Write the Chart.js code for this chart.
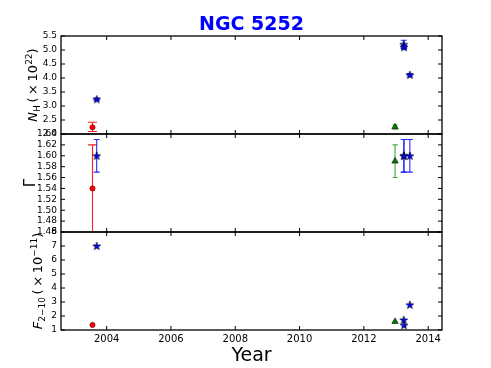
<!DOCTYPE html>
<html>
<head>
<meta charset="utf-8">
<script src="https://cdn.jsdelivr.net/npm/chart.js@4.4.1/dist/chart.umd.min.js"></script>
<style>
  html, body { margin: 0; padding: 0; background: #fff; }
  #wrap { width: 491px; height: 368px; }
</style>
</head>
<body>
<div id="wrap"><canvas id="ngcChart" width="491" height="368"></canvas></div>
<script>
// observation epochs (decimal year)
var circleYears = [2003.56];
var starYears = [2003.69, 2013.24, 2013.25, 2013.43];
var triangleYears = [2012.97];

// column density N_H (x10^22)
var circleNH = [2.24], circleNHLo = [0.15], circleNHHi = [0.18];
var starNH = [3.24, 5.2, 5.1, 4.11], starNHErr = [0.04, 0.15, 0.06, 0.05];
var triangleNH = [2.25], triangleNHErr = [0.07];

// photon index Gamma
var circleGamma = [1.54], circleGammaLo = [0.10], circleGammaHi = [0.08];
var starGamma = [1.60, 1.60, 1.60, 1.60], starGammaErr = [0.03, 0.03, 0.03, 0.03];
var triangleGamma = [1.59], triangleGammaErr = [0.03];

// 2-10 keV flux (x10^-11)
var circleFlux = [1.36];
var starFlux = [7.0, 1.72, 1.34, 2.8];
var triangleFlux = [1.6];

// tick labels
var yearTicks = [2004, 2006, 2008, 2010, 2012, 2014];
var nhTicks = [2.0, 2.5, 3.0, 3.5, 4.0, 4.5, 5.0, 5.5];
var gammaTicks = [1.46, 1.48, 1.50, 1.52, 1.54, 1.56, 1.58, 1.60, 1.62, 1.64];
var fluxTicks = [1, 2, 3, 4, 5, 6, 7, 8];

function pts(xs, ys) {
    return xs.map(function(x, i) { return {x: x, y: ys[i]}; });
}

function starImage() {
    var c = document.createElement('canvas');
    c.width = 10; c.height = 10;
    var g = c.getContext('2d');
    g.beginPath();
    for (var k = 0; k < 10; k++) {
        var r = k % 2 === 0 ? 4.2 : 1.7;
        var a = -Math.PI / 2 + k * Math.PI / 5;
        g.lineTo(5 + r * Math.cos(a), 5.3 + r * Math.sin(a));
    }
    g.closePath();
    g.fillStyle = '#0000ff';
    g.fill();
    g.lineWidth = 0.6;
    g.strokeStyle = '#000';
    g.stroke();
    return c;
}
var star = starImage();

function circleSet(data, axis, lo, hi) {
    return {data: data, yAxisID: axis, pointStyle: 'circle', pointRadius: 2.6,
        backgroundColor: '#ff0000', borderColor: '#600', borderWidth: 0.6,
        errLo: lo, errHi: hi, errColor: '#ff2020', cap: 4.5};
}
function starSet(data, axis, err) {
    return {data: data, yAxisID: axis, pointStyle: star, pointRadius: 4,
        errLo: err, errHi: err, errColor: '#2a2aff', cap: 3};
}
function triSet(data, axis, err) {
    return {data: data, yAxisID: axis, pointStyle: 'triangle', pointRadius: 3.7,
        backgroundColor: '#008000', borderColor: '#000', borderWidth: 0.6,
        errLo: err, errHi: err, errColor: '#40a840', cap: 2.5};
}

var errorBars = {
    id: 'errorBars',
    beforeDatasetsDraw: function(chart) {
        var ctx = chart.ctx, area = chart.chartArea;
        chart.data.datasets.forEach(function(ds, i) {
            if (!ds.errLo) return;
            var ys = chart.scales[ds.yAxisID];
            var meta = chart.getDatasetMeta(i);
            ctx.save();
            ctx.beginPath();
            ctx.rect(area.left, ys.top, area.right - area.left, ys.bottom - ys.top);
            ctx.clip();
            ctx.strokeStyle = ds.errColor;
            ctx.lineWidth = 1.1;
            meta.data.forEach(function(el, j) {
                var v = ds.data[j].y;
                var y1 = ys.getPixelForValue(v + ds.errHi[j]);
                var y2 = ys.getPixelForValue(v - ds.errLo[j]);
                ctx.beginPath();
                ctx.moveTo(el.x, y1); ctx.lineTo(el.x, y2);
                ctx.moveTo(el.x - ds.cap, y1); ctx.lineTo(el.x + ds.cap, y1);
                ctx.moveTo(el.x - ds.cap, y2); ctx.lineTo(el.x + ds.cap, y2);
                ctx.stroke();
            });
            ctx.restore();
        });
    }
};

// frames and inward ticks in the matplotlib way
var frames = {
    id: 'frames',
    afterDraw: function(chart) {
        var ctx = chart.ctx, area = chart.chartArea, xs = chart.scales.x;
        ['yN', 'yG', 'yF'].forEach(function(id) {
            var s = chart.scales[id];
            ctx.save();
            ctx.strokeStyle = '#000';
            ctx.lineWidth = 1;
            s.ticks.forEach(function(t) {
                var y = s.getPixelForValue(t.value);
                ctx.beginPath();
                ctx.moveTo(area.left, y); ctx.lineTo(area.left + 4, y);
                ctx.moveTo(area.right, y); ctx.lineTo(area.right - 4, y);
                ctx.stroke();
            });
            xs.ticks.forEach(function(t) {
                var x = xs.getPixelForValue(t.value);
                ctx.beginPath();
                ctx.moveTo(x, s.top); ctx.lineTo(x, s.top + 4);
                ctx.moveTo(x, s.bottom); ctx.lineTo(x, s.bottom - 4);
                ctx.stroke();
            });
            ctx.lineWidth = 1.3;
            ctx.strokeRect(area.left, s.top, area.right - area.left, s.bottom - s.top);
            ctx.restore();
        });
    }
};

// y axis titles with sub/superscripts
var richTitles = {
    id: 'richTitles',
    afterDraw: function(chart, args, opts) {
        var ctx = chart.ctx;
        opts.items.forEach(function(item) {
            var s = chart.scales[item.axis];
            var size = item.size, small = Math.round(size * 0.7);
            var fontOf = function(p) {
                return (p.it ? 'italic ' : '') + (p.sub || p.sup ? small : size) + 'px "DejaVu Sans"';
            };
            var total = 0;
            item.parts.forEach(function(p) { ctx.font = fontOf(p); total += ctx.measureText(p.t).width; });
            ctx.save();
            ctx.translate(item.x, (s.top + s.bottom) / 2);
            ctx.rotate(-Math.PI / 2);
            ctx.fillStyle = '#000';
            ctx.textBaseline = 'alphabetic';
            var u = -total / 2;
            item.parts.forEach(function(p) {
                ctx.font = fontOf(p);
                var dv = p.sub ? size * 0.22 : (p.sup ? -size * 0.42 : 0);
                ctx.fillText(p.t, u, dv);
                u += ctx.measureText(p.t).width;
            });
            ctx.restore();
        });
    }
};

function yAxis(ticks, min, max, digits, weight) {
    return {
        type: 'linear', position: 'left', stack: 'panels', stackWeight: 1, weight: weight,
        min: min, max: max,
        grid: {display: false, drawTicks: false}, border: {display: false},
        afterBuildTicks: function(axis) { axis.ticks = ticks.map(function(v) { return {value: v}; }); },
        afterFit: function(axis) { axis.width = 61; },
        ticks: {autoSkip: false, padding: 4, color: '#000', font: {size: 9},
            callback: function(v) { return Number(v).toFixed(digits); }}
    };
}

Chart.defaults.font.family = '"DejaVu Sans"';
Chart.defaults.animation = false;

var ctx = document.getElementById('ngcChart').getContext('2d');
var chart = new Chart(ctx, {
    type: 'scatter',
    data: {
        datasets: [
            circleSet(pts(circleYears, circleNH), 'yN', circleNHLo, circleNHHi),
            starSet(pts(starYears, starNH), 'yN', starNHErr),
            triSet(pts(triangleYears, triangleNH), 'yN', triangleNHErr),
            circleSet(pts(circleYears, circleGamma), 'yG', circleGammaLo, circleGammaHi),
            starSet(pts(starYears, starGamma), 'yG', starGammaErr),
            triSet(pts(triangleYears, triangleGamma), 'yG', triangleGammaErr),
            circleSet(pts(circleYears, circleFlux), 'yF', null, null),
            starSet(pts(starYears, starFlux), 'yF', null),
            triSet(pts(triangleYears, triangleFlux), 'yF', null)
        ]
    },
    options: {
        responsive: false,
        layout: {padding: {left: 0, right: 49, top: 0, bottom: 0}},
        plugins: {
            legend: {display: false},
            tooltip: {enabled: false},
            title: {display: true, fullSize: false, text: 'NGC 5252', color: '#0000ff',
                font: {size: 19, weight: 'bold', lineHeight: 1}, padding: {top: 16, bottom: 1}},
            richTitles: {items: [
                {axis: 'yN', x: 37, size: 13, parts: [{t: 'N', it: true}, {t: 'H', sub: true}, {t: '\u2009(\u2009\u00d7\u200910'}, {t: '22', sup: true}, {t: ')'}]},
                {axis: 'yG', x: 35, size: 15, parts: [{t: '\u0393'}]},
                {axis: 'yF', x: 42, size: 13, parts: [{t: 'F', it: true}, {t: '2\u221210', sub: true}, {t: '\u2009(\u2009\u00d7\u200910'}, {t: '\u221211', sup: true}, {t: ')'}]}
            ]}
        },
        scales: {
            x: {
                type: 'linear', position: 'bottom', min: 2002.58, max: 2014.43,
                grid: {display: false, drawTicks: false}, border: {display: false},
                afterBuildTicks: function(axis) { axis.ticks = yearTicks.map(function(v) { return {value: v}; }); },
                afterFit: function(axis) { axis.height = 38; },
                ticks: {autoSkip: false, maxRotation: 0, padding: 3, color: '#000', font: {size: 10},
                    callback: function(v) { return String(v); }},
                title: {display: true, text: 'Year', color: '#000', font: {size: 19}, padding: {top: 0, bottom: 1}}
            },
            yF: yAxis(fluxTicks, 1, 8, 0, 1),
            yG: yAxis(gammaTicks, 1.46, 1.64, 2, 2),
            yN: yAxis(nhTicks, 2.0, 5.5, 1, 3)
        }
    },
    plugins: [errorBars, frames, richTitles]
});
</script>
</body>
</html>
